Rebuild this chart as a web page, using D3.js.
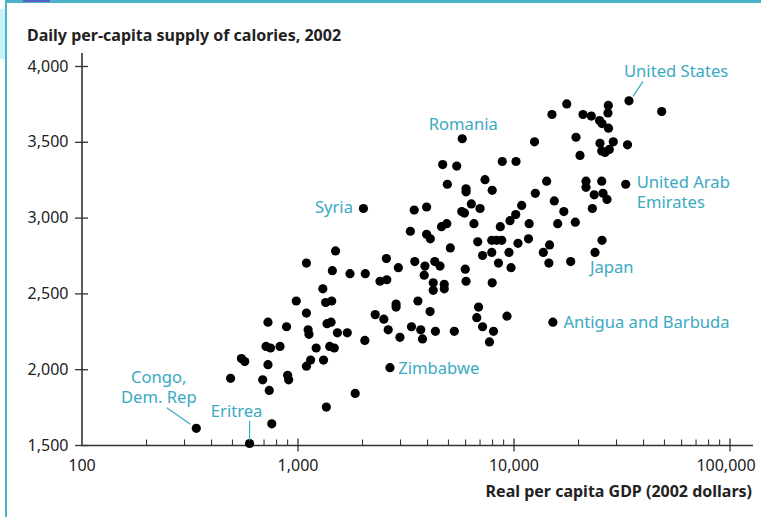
<!DOCTYPE html>
<html>
<head>
<meta charset="utf-8">
<script src="https://cdn.jsdelivr.net/npm/d3@7"></script>
<style>
  body { margin: 0; background: #fff; }
  svg { display: block; font-family: "Noto Sans", sans-serif; }
</style>
</head>
<body>
<script>
// unlabeled countries: real per capita GDP (2002 $) and daily calories
const gdp = [
  48550, 17640, 15070, 20980, 22920, 27470, 27380, 25010, 25690, 27530,
  12510, 19470, 20320, 25140, 28970, 25610, 27770, 26530, 33720, 10270,
  8870, 4700, 5460, 4940, 7380, 7970, 6030, 6030, 14240, 21660,
  21660, 25610, 12620, 23640, 25970, 27090, 15450, 23170, 17100, 10910,
  10240, 9630, 11820, 16020, 19320, 8690, 3470, 3960, 5760, 5930,
  6380, 7000, 6560, 4640, 4910, 3330, 3960, 4120, 5100, 6830,
  7930, 8360, 8820, 10490, 11730, 13740, 14690, 25690, 14580, 18400,
  7190, 7930, 9530, 8520, 9740, 1500, 1100, 1450, 1750, 2060,
  2580, 2930, 3490, 3890, 4320, 4570, 5980, 3860, 2410, 2590,
  4250, 4780, 4250, 4780, 6030, 7970, 1310, 987, 1350, 1440,
  2860, 2860, 3610, 4110, 2290, 2510, 6890, 6760, 9330, 1100,
  730, 1370, 1430, 890, 1120, 1130, 1530, 1700, 2630, 3370,
  3720, 3790, 4350, 5320, 7190, 8080, 7740, 2050, 2980, 715,
  750, 830, 1220, 1410, 1480, 550, 570, 1150, 1320, 730,
  1100, 490, 690, 900, 910, 740, 1850, 1360, 760
];
const calories = [
  3700, 3750, 3680, 3680, 3670, 3740, 3690, 3640, 3620, 3590,
  3500, 3530, 3410, 3490, 3500, 3440, 3450, 3430, 3480, 3370,
  3370, 3350, 3340, 3220, 3250, 3180, 3190, 3170, 3240, 3240,
  3200, 3240, 3160, 3150, 3160, 3120, 3110, 3060, 3040, 3080,
  3020, 2980, 2960, 2960, 2970, 2940, 3050, 3070, 3040, 3030,
  3090, 3060, 2960, 2940, 2960, 2910, 2890, 2860, 2800, 2840,
  2850, 2850, 2850, 2830, 2860, 2770, 2820, 2850, 2700, 2710,
  2750, 2770, 2770, 2700, 2670, 2780, 2700, 2650, 2630, 2630,
  2730, 2670, 2710, 2680, 2710, 2680, 2660, 2620, 2580, 2590,
  2570, 2560, 2520, 2530, 2580, 2570, 2530, 2450, 2440, 2450,
  2430, 2410, 2450, 2380, 2360, 2330, 2410, 2340, 2350, 2370,
  2310, 2300, 2310, 2280, 2260, 2230, 2240, 2240, 2260, 2280,
  2260, 2200, 2250, 2250, 2280, 2250, 2180, 2190, 2210, 2150,
  2140, 2150, 2140, 2150, 2140, 2070, 2050, 2060, 2060, 2030,
  2020, 1940, 1930, 1960, 1930, 1860, 1840, 1750, 1640
];

// named countries
const labelNames = ["United States", "United Arab Emirates", "Romania", "Syria", "Japan",
  "Antigua and Barbuda", "Zimbabwe", "Congo, Dem. Rep", "Eritrea"];
const labelGdp = [34250, 33070, 5790, 2020, 23840, 15220, 2680, 340, 600];
const labelCalories = [3770, 3220, 3520, 3060, 2770, 2310, 2010, 1610, 1510];

const yTicks = [1500, 2000, 2500, 3000, 3500, 4000];
const xTicks = [100, 1000, 10000, 100000];

// where each name sits relative to its dot (pixels)
const labelLayout = {
  "United States": { lines: ["United States"], anchor: "start", dx: -5, dy: -30, leader: [[4, -4.5], [14, -19.5]] },
  "United Arab Emirates": { lines: ["United Arab", "Emirates"], anchor: "start", dx: 11, dy: -2 },
  "Romania": { lines: ["Romania"], anchor: "middle", dx: 1, dy: -15 },
  "Syria": { lines: ["Syria"], anchor: "end", dx: -10.5, dy: -1 },
  "Japan": { lines: ["Japan"], anchor: "start", dx: -5, dy: 15 },
  "Antigua and Barbuda": { lines: ["Antigua and Barbuda"], anchor: "start", dx: 10.5, dy: -0.5 },
  "Zimbabwe": { lines: ["Zimbabwe"], anchor: "start", dx: 8.3, dy: 1 },
  "Congo, Dem. Rep": { lines: ["Congo,", "Dem. Rep"], anchor: "middle", dx: -37.5, dy: -51.5, leader: [[-29.5, -20.5], [-6, -4]] },
  "Eritrea": { lines: ["Eritrea"], anchor: "middle", dx: -13, dy: -32, leader: [[0, -22.7], [0, -3]] }
};

const width = 761, height = 517;
const teal = "#3aa9c2";
const ink = "#222";

const svg = d3.select("body").append("svg")
  .attr("width", width)
  .attr("height", height);

// slide frame remnants
svg.append("rect").attr("x", 6).attr("y", 0).attr("width", width - 6).attr("height", 3).attr("fill", "#4ab3c6");
svg.append("rect").attr("x", 5).attr("y", 0).attr("width", 2).attr("height", height).attr("fill", "#4ab3c6");
svg.append("rect").attr("x", 0).attr("y", 9).attr("width", 5).attr("height", 50).attr("fill", "#c9f3f8");
svg.append("rect").attr("x", 23).attr("y", 0).attr("width", 27).attr("height", 2).attr("fill", "#5561c9");

const x = d3.scaleLog().domain([100, 100000]).range([81.5, 729.5]);
const y = d3.scaleLinear().domain([1500, 4000]).range([445, 66]);

const fmt = d3.format(",");

// y axis
const yAxis = svg.append("g")
  .attr("transform", "translate(82,0)")
  .call(d3.axisLeft(y).tickValues(yTicks).tickSize(7).tickPadding(6.5).tickFormat(fmt));
yAxis.select(".domain").remove();
yAxis.selectAll(".tick line").attr("x1", 6).attr("stroke", "#333").attr("stroke-width", 1.3);
yAxis.selectAll(".tick text").attr("fill", ink).style("font-size", "16px").style("font-family", "Noto Sans, sans-serif");
yAxis.append("line").attr("x1", 0).attr("x2", 0).attr("y1", 53).attr("y2", 446)
  .attr("stroke", "#333").attr("stroke-width", 1.6);

// x axis
const minorTicks = [];
[100, 1000, 10000].forEach(b => { for (let k = 2; k <= 9; k++) minorTicks.push(b * k); });

const xAxis = svg.append("g")
  .attr("transform", "translate(0,445.5)")
  .call(d3.axisBottom(x).tickValues(xTicks).tickSize(6).tickPadding(8.5).tickFormat(fmt));
xAxis.select(".domain").remove();
xAxis.selectAll(".tick line").attr("y1", -7).attr("stroke", "#333").attr("stroke-width", 1.3);
xAxis.selectAll(".tick").filter(d => d === 100).select("line").remove();
xAxis.selectAll(".tick text").attr("fill", ink).style("font-size", "16px").style("font-family", "Noto Sans, sans-serif");
xAxis.selectAll(".tick").filter(d => d === 100000).select("text").attr("dx", -4);
xAxis.selectAll(".minor")
  .data(minorTicks)
  .enter().append("line")
  .attr("class", "minor")
  .attr("x1", d => x(d)).attr("x2", d => x(d))
  .attr("y1", -6).attr("y2", 0)
  .attr("stroke", "#333").attr("stroke-width", 1.1);
xAxis.append("line").attr("x1", 81).attr("x2", 753).attr("y1", 0).attr("y2", 0)
  .attr("stroke", "#333").attr("stroke-width", 1.6);

// titles
svg.append("text")
  .attr("x", 27).attr("y", 35).attr("dy", "0.35em")
  .style("font-size", "16px").style("font-weight", "bold")
  .attr("fill", ink)
  .text("Daily per-capita supply of calories, 2002");

svg.append("text")
  .attr("x", 752).attr("y", 491.5).attr("dy", "0.35em")
  .attr("text-anchor", "end")
  .style("font-size", "16px").style("font-weight", "bold")
  .attr("fill", ink)
  .text("Real per capita GDP (2002 dollars)");

// dots
const points = gdp.map((g, i) => ({ gdp: g, cal: calories[i] }));
const named = labelNames.map((n, i) => ({ name: n, gdp: labelGdp[i], cal: labelCalories[i] }));

svg.append("g").selectAll("circle")
  .data(points.concat(named))
  .enter().append("circle")
  .attr("cx", d => x(d.gdp))
  .attr("cy", d => y(d.cal))
  .attr("r", 4.6)
  .attr("fill", "#000");

// labels
const labelG = svg.append("g");
named.forEach(d => {
  const lay = labelLayout[d.name];
  const px = x(d.gdp), py = y(d.cal);
  const t = labelG.append("text")
    .attr("text-anchor", lay.anchor)
    .attr("fill", teal)
    .style("font-size", "16.6px");
  lay.lines.forEach((line, j) => {
    t.append("tspan")
      .attr("x", px + lay.dx)
      .attr("y", py + lay.dy + j * 20)
      .attr("dy", "0.35em")
      .text(line);
  });
  if (lay.leader) {
    labelG.append("line")
      .attr("x1", px + lay.leader[0][0]).attr("y1", py + lay.leader[0][1])
      .attr("x2", px + lay.leader[1][0]).attr("y2", py + lay.leader[1][1])
      .attr("stroke", teal).attr("stroke-width", 1.2);
  }
});
</script>
</body>
</html>
